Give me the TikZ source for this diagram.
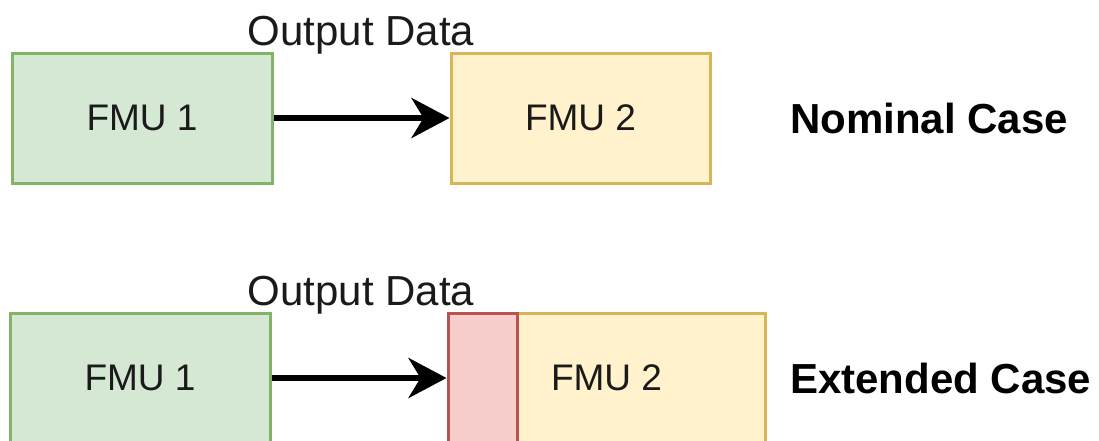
\documentclass[tikz,border=0pt]{standalone}
\usepackage{fontspec}
\setmainfont{Liberation Sans}
\usetikzlibrary{arrows.meta}
\definecolor{greenfill}{HTML}{D5E8D4}
\definecolor{greenline}{HTML}{82B366}
\definecolor{yellowfill}{HTML}{FFF2CC}
\definecolor{yellowline}{HTML}{D6B656}
\definecolor{redfill}{HTML}{F8CECC}
\definecolor{redline}{HTML}{B85450}
\definecolor{textgray}{HTML}{1A1A1A}
\tikzset{
  fmubox/.style={draw, line width=3pt, rectangle, inner sep=0pt,
    font=\fontsize{37}{44}\selectfont, text=textgray},
  greenbox/.style={fmubox, fill=greenfill, draw=greenline},
  yellowbox/.style={fmubox, fill=yellowfill, draw=yellowline},
  redbox/.style={fmubox, fill=redfill, draw=redline},
  datalabel/.style={anchor=base, inner sep=0pt, font=\fontsize{42}{50}\selectfont, text=textgray},
  caselabel/.style={anchor=base west, inner sep=0pt, font=\fontsize{42}{50}\selectfont\bfseries},
  flow/.style={line width=6pt, -{Stealth[length=38pt, width=40pt, inset=12pt]}}
}
\begin{document}
\begin{tikzpicture}[x=1pt, y=-1pt]
\useasboundingbox (0,0) rectangle (1099,440);
\clip (0,0) rectangle (1099,440);

% nominal case
\node[greenbox, minimum width=260pt, minimum height=130pt] (n1) at (142,118) {FMU 1};
\node[yellowbox, minimum width=259pt, minimum height=130pt] (n2) at (580.5,118) {FMU 2};
\draw[flow] (n1.east) -- (n2.west);
\node[datalabel] (nlab) at (361,45) {Output Data};
\node[caselabel] (ncase) at (790,133) {Nominal Case};

% extended case
\node[greenbox, minimum width=260pt, minimum height=130pt] (e1) at (140,378) {FMU 1};
\node[yellowbox, minimum width=317pt, minimum height=130pt] (e2) at (606.5,378) {FMU 2};
\node[redbox, minimum width=69pt, minimum height=130pt] (ext) at (482.5,378) {};
\draw[flow] (e1.east) -- (ext.west);
\node[datalabel] (elab) at (361,305) {Output Data};
\node[caselabel] (ecase) at (790,393) {Extended Case};
\end{tikzpicture}
\end{document}
